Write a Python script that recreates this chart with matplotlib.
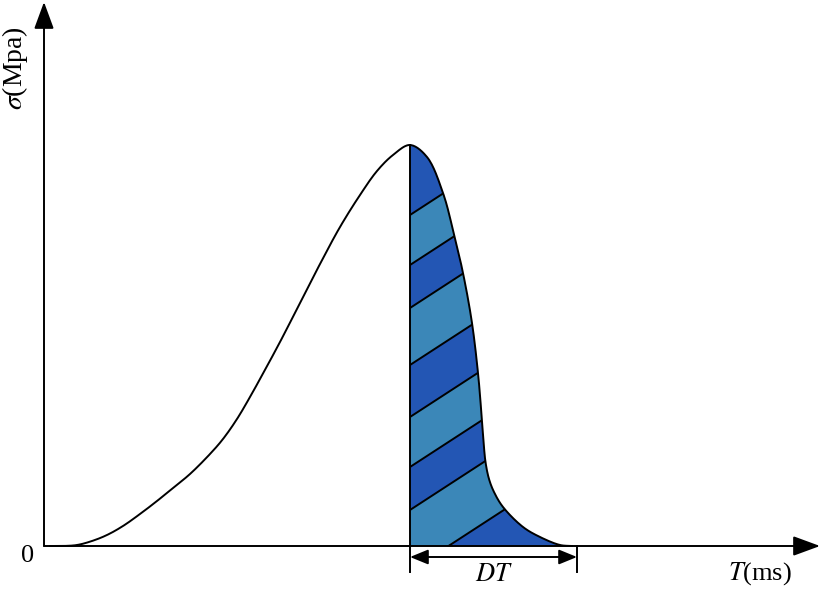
import matplotlib
matplotlib.use('Agg')
import matplotlib.pyplot as plt
from matplotlib.patches import Polygon
import numpy as np

plt.rcParams['font.family'] = ['Liberation Serif', 'DejaVu Serif']
plt.rcParams['mathtext.fontset'] = 'stix'

# rising part of the stress pulse (T, sigma)
rise_t = [0.6, 1.8, 3.3, 4.8, 6.3, 7.9, 9.6, 11.3, 12.9, 14.6, 16.6, 17.9,
          19.3, 20.6, 21.6, 23.6, 25.6, 27.6, 29.6, 31.6, 33.3, 34.9, 36.6]
rise_s = [0.0, 0.0, 0.1, 0.5, 1.1, 2.0, 3.2, 4.5, 5.8, 7.2, 9.2, 10.7,
          12.7, 14.9, 16.7, 20.4, 24.3, 28.2, 31.9, 35.1, 37.5, 39.1, 40.1]
# falling part (shaded, DT)
fall_t = [36.6, 38.3, 39.9, 40.9, 41.9, 42.8, 43.4, 43.7, 43.95, 44.15,
          44.5, 45.0, 45.9, 47.9, 49.6, 51.6, 52.8]
fall_s = [40.1, 38.9, 35.3, 31.6, 27.3, 22.3, 17.3, 13.8, 10.5, 8.4,
          6.7, 5.4, 3.9, 1.9, 0.9, 0.1, 0.0]
# stripe boundaries: sigma at T = 36.6, common slope
stripe_b = [33.1, 28.1, 23.8, 18.1, 12.9, 7.9, 3.6, -2.5]
stripe_k = 0.65

t_peak = fall_t[0]
t_end = fall_t[-1]
x_tip = 77.6
y_tip = 54.4

dark = '#2356b4'
light = '#3b87b8'
lw = 1.4


def smooth(xs, ys, n=16):
    # centripetal Catmull-Rom through the read points, only to draw a smooth line
    p = np.column_stack([xs, ys]).astype(float)
    p = np.vstack([2 * p[0] - p[1], p, 2 * p[-1] - p[-2]])
    out = []
    for i in range(1, len(p) - 2):
        p0, p1, p2, p3 = p[i - 1], p[i], p[i + 1], p[i + 2]
        t0 = 0.0
        t1 = t0 + max(np.linalg.norm(p1 - p0), 1e-6) ** 0.5
        t2 = t1 + max(np.linalg.norm(p2 - p1), 1e-6) ** 0.5
        t3 = t2 + max(np.linalg.norm(p3 - p2), 1e-6) ** 0.5
        for t in np.linspace(t1, t2, n, endpoint=False):
            a1 = (t1 - t) / (t1 - t0) * p0 + (t - t0) / (t1 - t0) * p1
            a2 = (t2 - t) / (t2 - t1) * p1 + (t - t1) / (t2 - t1) * p2
            a3 = (t3 - t) / (t3 - t2) * p2 + (t - t2) / (t3 - t2) * p3
            b1 = (t2 - t) / (t2 - t0) * a1 + (t - t0) / (t2 - t0) * a2
            b2 = (t3 - t) / (t3 - t1) * a2 + (t - t1) / (t3 - t1) * a3
            out.append((t2 - t) / (t2 - t1) * b1 + (t - t1) / (t2 - t1) * b2)
    out.append(p[-2])
    out = np.array(out)
    return out[:, 0], np.maximum(out[:, 1], 0)


fig = plt.figure(figsize=(8.24, 5.90), dpi=100)
ax = fig.add_axes([0, 0, 1, 1])
ax.set_xlim(-4.4, 78.0)
ax.set_ylim(-4.4, 54.6)
ax.axis('off')

cx, cy = smooth(rise_t + fall_t[1:], rise_s + fall_s[1:])
left = cx <= t_peak
rx, ry = cx[left], cy[left]
fx, fy = np.r_[t_peak, cx[~left]], np.r_[fall_s[0], cy[~left]]

shape = Polygon(np.column_stack([np.r_[fx, t_peak], np.r_[fy, 0]]),
                closed=True, facecolor=dark, edgecolor='none', zorder=2)
ax.add_patch(shape)

for i in range(0, len(stripe_b), 2):
    b1, b2 = stripe_b[i], stripe_b[i + 1]
    t0, t1 = t_peak - 1, t_end + 5
    band = Polygon([[t0, b1 + stripe_k * (t0 - t_peak)],
                    [t1, b1 + stripe_k * (t1 - t_peak)],
                    [t1, b2 + stripe_k * (t1 - t_peak)],
                    [t0, b2 + stripe_k * (t0 - t_peak)]],
                   closed=True, facecolor=light, edgecolor='none', zorder=3)
    ax.add_patch(band)
    band.set_clip_path(shape)

tt = np.array([t_peak - 1, t_end + 5])
for b in stripe_b:
    ln, = ax.plot(tt, b + stripe_k * (tt - t_peak), color='black', lw=lw, zorder=4)
    ln.set_clip_path(shape)

ax.plot(cx, cy, color='black', lw=lw, zorder=5)
ax.plot([t_peak, t_peak], [0, fall_s[0]], color='black', lw=lw, zorder=5)

# axes with arrow heads
head = dict(arrowstyle='-|>,head_length=1.66,head_width=0.61', mutation_scale=10,
            color='black', lw=lw, shrinkA=0, shrinkB=0)
ax.annotate('', xy=(x_tip, 0), xytext=(0, 0), arrowprops=head, zorder=6)
ax.annotate('', xy=(0, y_tip), xytext=(0, 0), arrowprops=head, zorder=6)

# DT span
ax.plot([t_peak, t_peak], [0, -2.6], color='black', lw=lw)
ax.plot([t_end + 0.5, t_end + 0.5], [0, -2.6], color='black', lw=lw)
dt = dict(arrowstyle='<|-|>,head_length=1.1,head_width=0.45', mutation_scale=10,
          color='black', lw=lw, shrinkA=0, shrinkB=0)
ax.annotate('', xy=(t_end + 0.5, -1.1), xytext=(t_peak, -1.1), arrowprops=dt)

ax.text((t_peak + t_end + 0.5) / 2, -2.9, r'$DT$', ha='center', va='center', fontsize=19)
ax.text(71.6, -2.8, r'$T$(ms)', ha='center', va='center', fontsize=19)
ax.text(-1.6, -1.0, '0', ha='center', va='center', fontsize=19)
ax.text(-2.9, 47.8, r'$\sigma$(Mpa)', ha='center', va='center', fontsize=20, rotation=90)

fig.savefig('out.png', dpi=100)
